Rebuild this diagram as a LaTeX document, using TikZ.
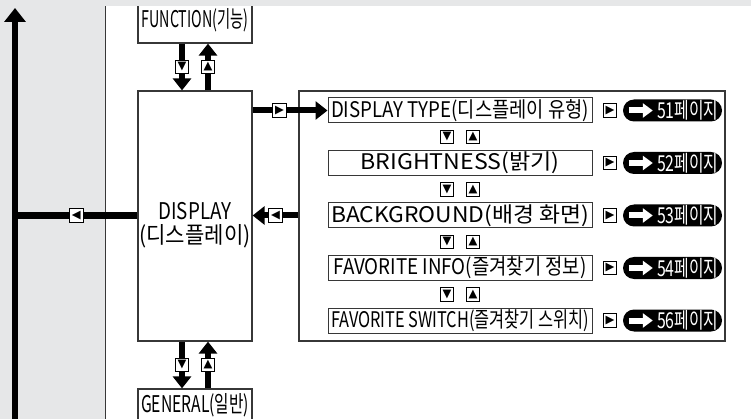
\documentclass[tikz,border=0pt]{standalone}
\usepackage{graphicx}
\usepackage{fontspec}
\setmainfont{Noto Sans CJK KR}
\newfontfamily\pagefont{Noto Sans CJK KR}[FakeStretch=0.72]
\newfontfamily\keyfont{DejaVu Sans}
\usepackage{tikz}
\usetikzlibrary{positioning, arrows.meta}
\definecolor{panelgray}{RGB}{230,231,232}
\definecolor{linegray}{RGB}{55,55,55}
\newcommand{\fitto}[2]{\resizebox{#1pt}{\height}{#2}}

\begin{document}
\begin{tikzpicture}[x=1pt, y=-1pt, node distance=52.5pt,
    mainbox/.style={draw=linegray, line width=1.2pt, fill=white, minimum width=114pt, inner sep=0pt, font=\fontsize{23}{24}\selectfont},
    menubox/.style={draw=linegray, line width=1pt, fill=white, minimum width=264pt, minimum height=25pt, inner sep=0pt, font=\fontsize{21.5}{21.5}\selectfont},
    keybox/.style={draw=black, line width=0.9pt, fill=white, minimum size=13.5pt, inner sep=0pt, font=\keyfont\fontsize{11.5}{11.5}\selectfont},
    flow/.style={line width=6pt, -{Triangle[length=12pt,width=18pt]}},
    rail/.style={line width=6.5pt},
    pagepill/.style={fill=black, rounded corners=11pt, minimum width=99pt, minimum height=22pt, inner sep=0pt},
    pagearrow/.style={white, line width=6pt, -{Triangle[length=10pt,width=14pt]}},
    pagetext/.style={white, inner sep=0pt, font=\pagefont\fontsize{22}{22}\selectfont}]
  \useasboundingbox (0,0) rectangle (751,419);
  \fill[panelgray] (0,0) rectangle (751,419);
  \fill[white] (105,6) rectangle (751,419);
  \draw[linegray, line width=1pt] (105,6) -- (105,419);

  % main column
  \node[mainbox, minimum height=250pt] (display) at (195,216) {};
  \node[font=\fontsize{23}{24}\selectfont, align=center] (displaytxt) at (195,225) {\fitto{73}{DISPLAY}\\\fitto{111}{(디스플레이)}};
  \node[mainbox, minimum height=45pt] (function) at (195,20.5) {\fitto{107}{FUNCTION(기능)}};
  \node[mainbox, minimum height=32pt] (general) at (195,405) {\fitto{108}{GENERAL(일반)}};
  \fill[panelgray] (0,0) rectangle (751,6);

  % display sub menu
  \node[draw=linegray, line width=1.5pt, minimum width=426pt, minimum height=250pt] (submenu) at (512,216) {};
  \node[menubox] (dtype) at (460,110.5) {\fitto{258}{DISPLAY TYPE(디스플레이 유형)}};
  \node[menubox] (bright) [below of=dtype] {\fitto{199}{BRIGHTNESS(밝기)}};
  \node[menubox] (bground) [below of=bright] {\fitto{258}{BACKGROUND(배경 화면)}};
  \node[menubox] (favinfo) [below of=bground] {\fitto{253}{FAVORITE INFO(즐겨찾기 정보)}};
  \node[menubox] (favswitch) [below of=favinfo] {\fitto{258}{FAVORITE SWITCH(즐겨찾기 스위치)}};

  \foreach \a/\b in {dtype/bright, bright/bground, bground/favinfo, favinfo/favswitch} {
    \path (\a) -- (\b) node[keybox, midway, xshift=-13pt] {▼} node[keybox, midway, xshift=13pt] {▲};
  }
  \foreach \n/\p in {dtype/51, bright/52, bground/53, favinfo/54, favswitch/56} {
    \node[keybox] (key\n) at ([xshift=150pt]\n.center) {▶};
    \node[pagepill] (page\n) at ([xshift=212.5pt]\n.center) {};
    \draw[pagearrow] ([xshift=6pt]page\n.west) -- ([xshift=30pt]page\n.west);
    \node[pagetext, anchor=west] at ([xshift=34pt]page\n.west) {\p{}페이지};
  }

  % connectors
  \draw[flow] ([xshift=-13pt]function.south) -- node[keybox] {▼} ([xshift=-13pt]display.north);
  \draw[flow] ([xshift=13pt]display.north) -- node[keybox] {▲} ([xshift=13pt]function.south);
  \draw[flow] ([xshift=-13pt]display.south) -- node[keybox] {▼} ([xshift=-13pt]general.north);
  \draw[flow] ([xshift=13pt]general.north) -- node[keybox] {▲} ([xshift=13pt]display.south);
  \draw[flow] (display.east |- dtype.west) -- node[keybox, pos=0.36] {▶} (dtype.west);
  \draw[flow] (submenu.west |- bground.west) -- node[keybox] {◀} (display.east |- bground.west);

  \coordinate (railtop) at (15,8);
  \coordinate (railfoot) at (15,422);
  \draw[rail, -{Triangle[length=14pt,width=21pt]}] (railfoot) -- (railtop);
  \draw[rail] (display.west |- bground.west) -- node[keybox] {◀} (railfoot |- bground.west);
\end{tikzpicture}
\end{document}
